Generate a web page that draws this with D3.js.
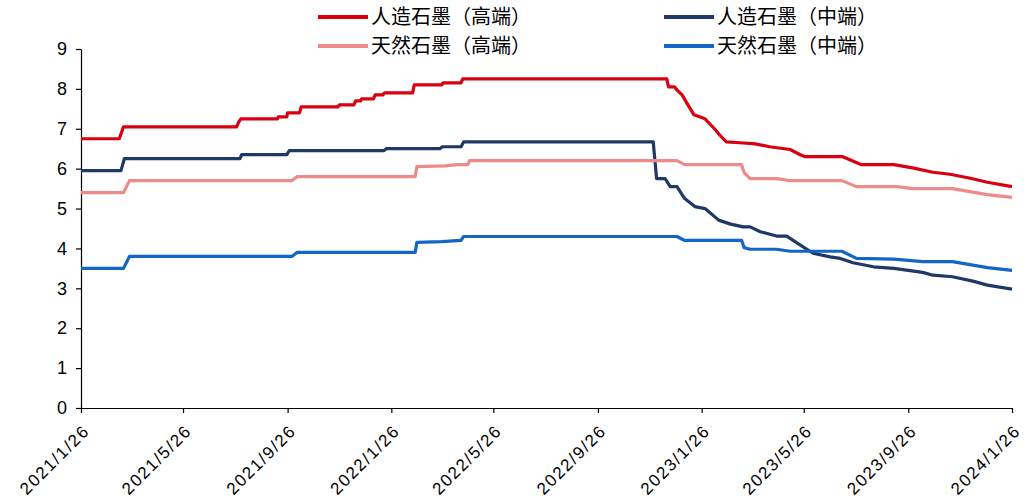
<!DOCTYPE html>
<html>
<head>
<meta charset="utf-8">
<script src="https://cdn.jsdelivr.net/npm/d3@7/dist/d3.min.js"></script>
<style>
  html, body { margin: 0; padding: 0; background: #fff; }
  svg { display: block; }
  .tick text { font-family: "Liberation Sans", Arial, sans-serif; fill: #000; }
  .legend text { font-family: "Noto Sans CJK SC", sans-serif; fill: #000; }
</style>
</head>
<body>
<svg id="chart" width="1024" height="501"></svg>
<script>
// Graphite anode prices (万元/吨), 2021/1/26 – 2024/1/26
const seriesNames = ["人造石墨（高端）", "人造石墨（中端）", "天然石墨（高端）", "天然石墨（中端）"];
const seriesColors = ["#d9000f", "#1f3866", "#ef8a8a", "#1366c8"];

const xTickLabels = ["2021/1/26", "2021/5/26", "2021/9/26", "2022/1/26", "2022/5/26",
                     "2022/9/26", "2023/1/26", "2023/5/26", "2023/9/26", "2024/1/26"];
const yTickValues = [0, 1, 2, 3, 4, 5, 6, 7, 8, 9];

// 人造石墨（高端）
const artificialHigh = [
  ["2021-01-26", 6.75], ["2021-03-12", 6.75], ["2021-03-17", 7.05], ["2021-07-28", 7.05],
  ["2021-07-30", 7.15], ["2021-08-02", 7.25], ["2021-09-14", 7.25], ["2021-09-15", 7.3],
  ["2021-09-25", 7.3], ["2021-09-26", 7.4], ["2021-10-10", 7.4], ["2021-10-12", 7.55],
  ["2021-11-24", 7.55], ["2021-11-26", 7.6], ["2021-12-13", 7.6], ["2021-12-15", 7.7],
  ["2021-12-21", 7.7], ["2021-12-22", 7.75], ["2022-01-05", 7.75], ["2022-01-07", 7.85],
  ["2022-01-16", 7.85], ["2022-01-18", 7.9], ["2022-02-20", 7.9], ["2022-02-22", 8.1],
  ["2022-03-26", 8.1], ["2022-03-28", 8.15], ["2022-04-18", 8.15], ["2022-04-20", 8.25],
  ["2022-12-16", 8.25], ["2022-12-18", 8.05], ["2022-12-25", 8.05], ["2022-12-29", 7.95],
  ["2023-01-03", 7.85], ["2023-01-09", 7.63], ["2023-01-17", 7.35], ["2023-01-30", 7.25],
  ["2023-02-10", 7.0], ["2023-02-16", 6.85], ["2023-02-24", 6.67], ["2023-03-12", 6.65],
  ["2023-03-30", 6.62], ["2023-04-16", 6.55], ["2023-05-10", 6.48], ["2023-05-22", 6.35],
  ["2023-05-28", 6.3], ["2023-07-11", 6.3], ["2023-08-02", 6.1], ["2023-09-09", 6.1],
  ["2023-10-01", 6.02], ["2023-10-25", 5.91], ["2023-11-14", 5.86], ["2023-12-08", 5.76],
  ["2023-12-28", 5.66], ["2024-01-26", 5.55]
];

// 人造石墨（中端）
const artificialMid = [
  ["2021-01-26", 5.95], ["2021-03-14", 5.95], ["2021-03-18", 6.25], ["2021-08-01", 6.25],
  ["2021-08-03", 6.35], ["2021-09-25", 6.35], ["2021-09-28", 6.45], ["2022-01-17", 6.45],
  ["2022-01-20", 6.5], ["2022-03-24", 6.5], ["2022-03-27", 6.55], ["2022-04-18", 6.55],
  ["2022-04-21", 6.67], ["2022-11-30", 6.67], ["2022-12-04", 5.75], ["2022-12-14", 5.75],
  ["2022-12-20", 5.55], ["2022-12-28", 5.55], ["2023-01-06", 5.25], ["2023-01-18", 5.05],
  ["2023-01-30", 5.0], ["2023-02-15", 4.71], ["2023-03-01", 4.61], ["2023-03-16", 4.54],
  ["2023-03-24", 4.54], ["2023-04-05", 4.42], ["2023-04-24", 4.31], ["2023-05-06", 4.31],
  ["2023-05-18", 4.14], ["2023-06-06", 3.88], ["2023-06-26", 3.79], ["2023-07-08", 3.75],
  ["2023-07-23", 3.64], ["2023-08-16", 3.54], ["2023-09-09", 3.5], ["2023-10-13", 3.4],
  ["2023-10-25", 3.33], ["2023-11-17", 3.29], ["2023-12-11", 3.18], ["2023-12-28", 3.08],
  ["2024-01-26", 2.98]
];

// 天然石墨（高端）
const naturalHigh = [
  ["2021-01-26", 5.4], ["2021-03-17", 5.4], ["2021-03-24", 5.7], ["2021-10-01", 5.7],
  ["2021-10-07", 5.8], ["2022-02-23", 5.8], ["2022-02-25", 6.05], ["2022-03-30", 6.07],
  ["2022-04-13", 6.1], ["2022-04-26", 6.1], ["2022-04-28", 6.2], ["2022-12-28", 6.2],
  ["2023-01-06", 6.1], ["2023-03-14", 6.1], ["2023-03-17", 5.9], ["2023-03-24", 5.75],
  ["2023-04-24", 5.75], ["2023-05-10", 5.7], ["2023-07-10", 5.7], ["2023-07-27", 5.55],
  ["2023-09-13", 5.55], ["2023-10-01", 5.5], ["2023-11-17", 5.5], ["2023-12-28", 5.35],
  ["2024-01-26", 5.28]
];

// 天然石墨（中端）
const naturalMid = [
  ["2021-01-26", 3.5], ["2021-03-17", 3.5], ["2021-03-24", 3.8], ["2021-10-01", 3.8],
  ["2021-10-07", 3.9], ["2022-02-23", 3.9], ["2022-02-25", 4.15], ["2022-03-26", 4.17],
  ["2022-04-18", 4.2], ["2022-04-21", 4.3], ["2022-12-28", 4.3], ["2023-01-06", 4.2],
  ["2023-03-14", 4.2], ["2023-03-17", 4.02], ["2023-03-24", 3.98], ["2023-04-24", 3.98],
  ["2023-05-10", 3.93], ["2023-07-10", 3.93], ["2023-07-27", 3.75], ["2023-09-09", 3.73],
  ["2023-10-13", 3.67], ["2023-11-17", 3.67], ["2023-12-28", 3.52], ["2024-01-26", 3.45]
];

const seriesData = [artificialHigh, artificialMid, naturalHigh, naturalMid];

const parseDate = d3.timeParse("%Y-%m-%d");
const parseTick = d3.timeParse("%Y/%m/%d");
const formatTick = d3.timeFormat("%Y/%-m/%-d");

const svg = d3.select("#chart");
const plot = { left: 81, right: 1012, top: 49, bottom: 408 };

const x = d3.scaleTime()
  .domain([parseTick(xTickLabels[0]), parseTick(xTickLabels[xTickLabels.length - 1])])
  .range([plot.left, plot.right]);

const y = d3.scaleLinear()
  .domain([0, 9])
  .range([plot.bottom, plot.top]);

// Y axis
const yAxis = svg.append("g")
  .attr("transform", `translate(${plot.left},0)`)
  .call(d3.axisLeft(y).tickValues(yTickValues).tickSize(5).tickSizeOuter(0).tickPadding(9));
yAxis.selectAll("text").style("font-size", "18px");

// X axis
const xAxis = svg.append("g")
  .attr("transform", `translate(0,${plot.bottom})`)
  .call(d3.axisBottom(x)
    .tickValues(xTickLabels.map(parseTick))
    .tickFormat(formatTick)
    .tickSize(5)
    .tickSizeOuter(0));
xAxis.selectAll("text")
  .style("font-size", "17px")
  .style("letter-spacing", "1.6px")
  .attr("text-anchor", "end")
  .attr("x", null).attr("y", null).attr("dy", null)
  .attr("transform", "translate(9,24) rotate(-45)");

svg.selectAll(".domain, .tick line").attr("stroke", "#000").attr("stroke-width", 1.2);

// Series lines
const line = d3.line()
  .x(d => x(parseDate(d[0])))
  .y(d => y(d[1]));

svg.append("g")
  .selectAll("path")
  .data(seriesData)
  .join("path")
  .attr("fill", "none")
  .attr("stroke", (d, i) => seriesColors[i])
  .attr("stroke-width", 3.2)
  .attr("stroke-linejoin", "round")
  .attr("d", line);

// Legend, two columns by two rows
const legendPos = [[318, 17], [664, 17], [318, 46], [664, 46]];
const legend = svg.append("g").attr("class", "legend")
  .selectAll("g")
  .data(seriesNames)
  .join("g")
  .attr("transform", (d, i) => `translate(${legendPos[i][0]},${legendPos[i][1]})`);
legend.append("line")
  .attr("x1", 0).attr("x2", 50)
  .attr("stroke", (d, i) => seriesColors[i])
  .attr("stroke-width", 4);
legend.append("text")
  .attr("x", 53)
  .attr("dy", "0.36em")
  .style("font-size", "20px")
  .text(d => d);
</script>
</body>
</html>
